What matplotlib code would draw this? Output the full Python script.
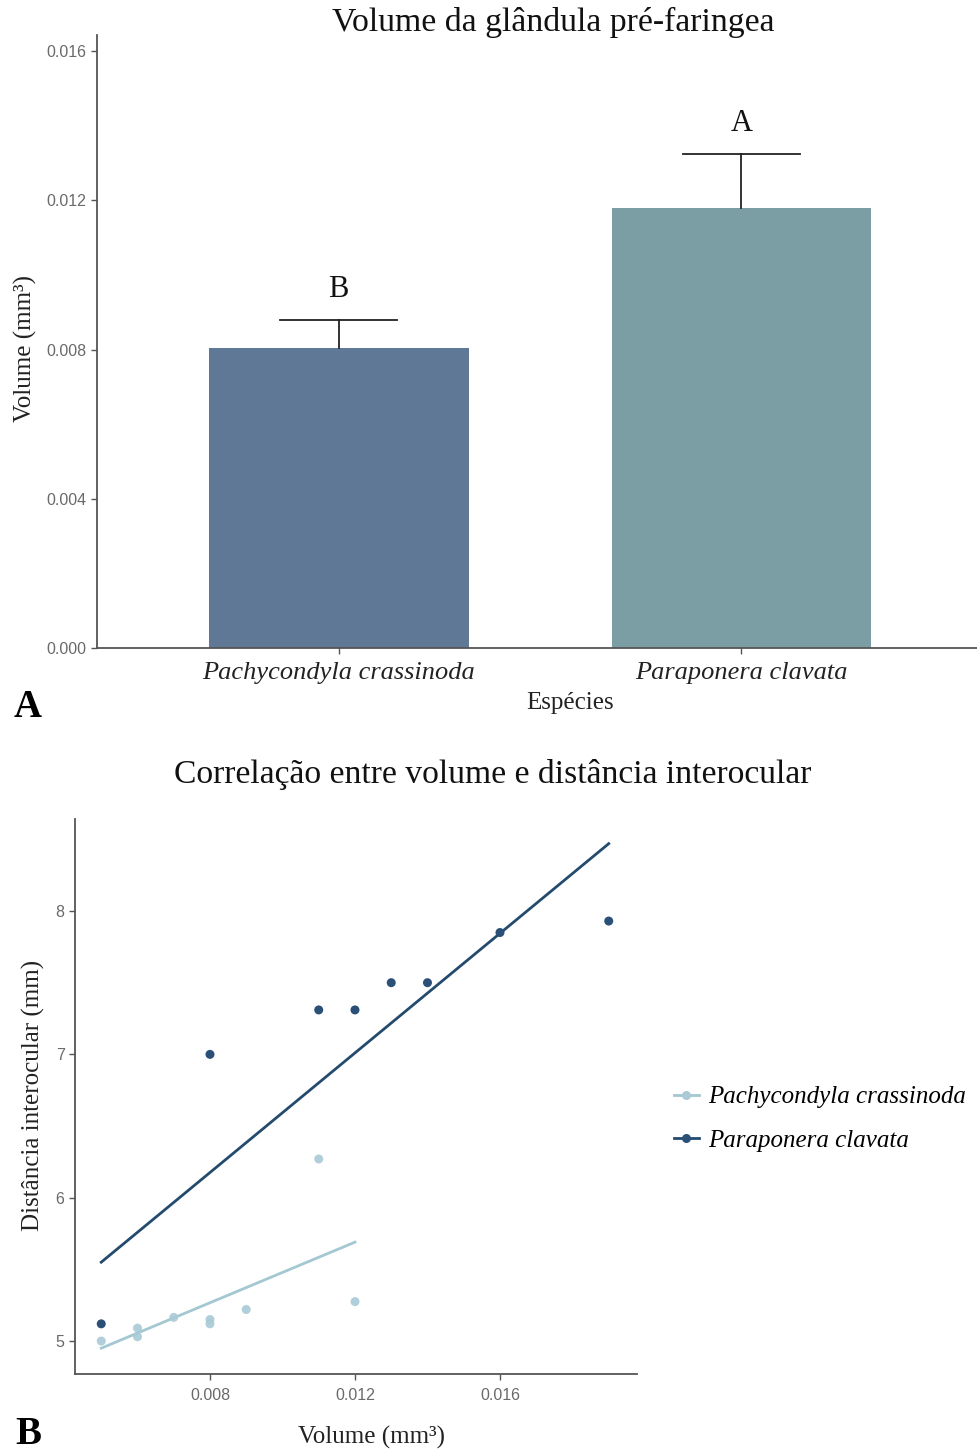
import matplotlib
matplotlib.use('Agg')
import matplotlib.pyplot as plt
from matplotlib.lines import Line2D

# ---------------- data ----------------
species = ['Pachycondyla crassinoda', 'Paraponera clavata']
bar_means = [0.00803, 0.01179]
bar_err = [0.00076, 0.00145]
bar_letters = ['B', 'A']
bar_colors = ['#5E7895', '#7B9EA4']
bar_yticks = [0.000, 0.004, 0.008, 0.012, 0.016]
bar_yticklabels = ['0.000', '0.004', '0.008', '0.012', '0.016']

vol_pc = [0.005, 0.006, 0.006, 0.007, 0.008, 0.008, 0.009, 0.011, 0.012]
dist_pc = [5.00, 5.09, 5.03, 5.165, 5.15, 5.12, 5.22, 6.27, 5.275]
vol_pv = [0.005, 0.008, 0.011, 0.012, 0.013, 0.014, 0.016, 0.019]
dist_pv = [5.12, 7.00, 7.31, 7.31, 7.50, 7.50, 7.85, 7.93]
fit_x_pc = [0.005, 0.012]
fit_y_pc = [4.95, 5.69]
fit_x_pv = [0.005, 0.019]
fit_y_pv = [5.55, 8.47]
sc_xticks = [0.008, 0.012, 0.016]
sc_xticklabels = ['0.008', '0.012', '0.016']
sc_yticks = [5, 6, 7, 8]
col_pc = '#A9CAD6'
col_pv = '#2B5078'
line_pc = '#A3C8D2'
line_pv = '#244B6E'

W, H = 977, 1453
fig = plt.figure(figsize=(W / 100, H / 100), dpi=100)
serif = 'Liberation Serif'
sans = 'Liberation Sans'
axcol = '#555555'
tickcol = '#6a6a6a'

def fx(px):
    return px / W

def fy(py):
    return 1 - py / H

def style_axes(ax):
    for s in ['top', 'right']:
        ax.spines[s].set_visible(False)
    for s in ['left', 'bottom']:
        ax.spines[s].set_color(axcol)
        ax.spines[s].set_linewidth(1.3)
    ax.tick_params(axis='both', colors=axcol, length=4, width=1.0)

# ---------------- top: bar chart ----------------
ax1 = fig.add_axes([fx(97), fy(648), fx(977 - 97), (648 - 35) / H])
xpos = [1, 2]
ax1.bar(xpos, bar_means, width=0.645, color=bar_colors, zorder=2)
for x, m, e, lab in zip(xpos, bar_means, bar_err, bar_letters):
    ax1.plot([x, x], [m, m + e], color='#222222', lw=1.3, zorder=3)
    ax1.plot([x - 0.145, x + 0.145], [m + e, m + e], color='#222222', lw=1.3, zorder=3)
    ax1.text(x, m + e + 0.00042, lab, ha='center', va='bottom',
             fontfamily=serif, fontsize=22, color='#111111')
ax1.set_xlim(0.4, 2.585)
ax1.set_ylim(0, 0.01643)
ax1.set_yticks(bar_yticks)
ax1.set_yticklabels(bar_yticklabels, fontfamily=sans, fontsize=11.5, color=tickcol)
ax1.set_xticks(xpos)
ax1.set_xticklabels(species, fontfamily=serif, fontstyle='italic', fontsize=19, color='#222222')
style_axes(ax1)
ax1.tick_params(axis='x', pad=6, labelcolor='#222222')
ax1.tick_params(axis='y', labelcolor=tickcol)

fig.text(fx(553), fy(22), 'Volume da glândula pré-faringea', ha='center', va='center',
         fontfamily=serif, fontsize=24.3, color='#111111')
fig.text(fx(570), fy(703), 'Espécies', ha='center', va='center',
         fontfamily=serif, fontsize=18, color='#222222')
fig.text(fx(25), fy(348), 'Volume (mm³)', ha='center', va='center', rotation=90,
         fontfamily=serif, fontsize=18, color='#222222')
fig.text(fx(28), fy(708), 'A', ha='center', va='center',
         fontfamily=serif, fontweight='bold', fontsize=28, color='#000000')

# ---------------- bottom: scatter ----------------
ax2 = fig.add_axes([fx(75), fy(1374), fx(637 - 75), (1374 - 819) / H])
ax2.plot(fit_x_pc, fit_y_pc, color=line_pc, lw=2.0, zorder=2)
ax2.plot(fit_x_pv, fit_y_pv, color=line_pv, lw=2.0, zorder=2)
ax2.scatter(vol_pc, dist_pc, s=42, color=col_pc, alpha=0.9, edgecolors='none', zorder=3)
ax2.scatter(vol_pv, dist_pv, s=42, color=col_pv, edgecolors='none', zorder=3)
ax2.set_xlim(0.004276, 0.01978)
ax2.set_ylim(4.77, 8.642)
ax2.set_xticks(sc_xticks)
ax2.set_xticklabels(sc_xticklabels, fontfamily=sans, fontsize=11.5, color=tickcol)
ax2.set_yticks(sc_yticks)
ax2.set_yticklabels([str(v) for v in sc_yticks], fontfamily=sans, fontsize=11.5, color=tickcol)
style_axes(ax2)
ax2.tick_params(axis='x', pad=6)
ax2.tick_params(axis='both', labelcolor=tickcol)

fig.text(fx(493), fy(775), 'Correlação entre volume e distância interocular', ha='center',
         va='center', fontfamily=serif, fontsize=24.2, color='#111111')
fig.text(fx(372), fy(1437), 'Volume (mm³)', ha='center', va='center',
         fontfamily=serif, fontsize=18, color='#222222')
fig.text(fx(33), fy(1095), 'Distância interocular (mm)', ha='center', va='center', rotation=90,
         fontfamily=serif, fontsize=18, color='#222222')
fig.text(fx(28), fy(1434), 'B', ha='center', va='center',
         fontfamily=serif, fontweight='bold', fontsize=28, color='#000000')

handles = [
    Line2D([0], [0], color=line_pc, lw=2, marker='o', markersize=6.5, markerfacecolor=col_pc,
           markeredgecolor='none'),
    Line2D([0], [0], color=line_pv, lw=2, marker='o', markersize=6.5, markerfacecolor=col_pv,
           markeredgecolor='none'),
]
fig.legend(handles, species, loc='center left', bbox_to_anchor=(fx(651), fy(1119)),
           frameon=False, handlelength=1.0, handletextpad=0.4, labelspacing=0.85,
           prop={'family': serif, 'style': 'italic', 'size': 18})

fig.savefig('out.png', dpi=100)
